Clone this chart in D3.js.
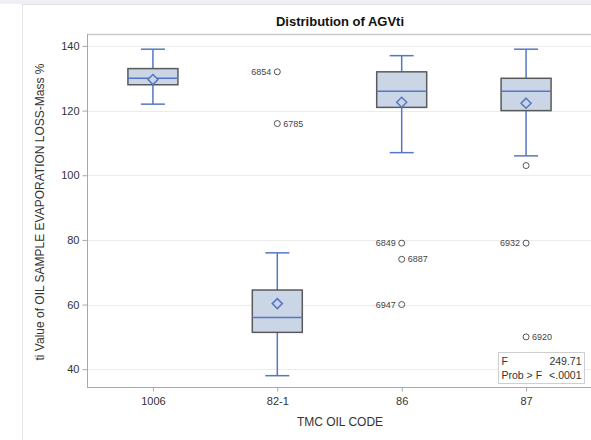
<!DOCTYPE html>
<html>
<head>
<meta charset="utf-8">
<script src="https://cdn.jsdelivr.net/npm/d3@7"></script>
<style>
  html, body { margin: 0; padding: 0; background: #ffffff; }
  svg { display: block; font-family: Arial, "Liberation Sans", sans-serif; }
</style>
</head>
<body>
<svg id="chart" width="591" height="440"></svg>
<script>
// Oil codes on the category axis
const categories = ["1006", "82-1", "86", "87"];
// Box statistics per oil code
const whiskerLow  = [122, 38, 107, 106];
const q1          = [128, 51.4, 121, 120];
const median      = [130, 56, 126, 126];
const q3          = [133, 64.5, 132, 130];
const whiskerHigh = [139, 76, 137, 139];
const means       = [129.6, 60.3, 122.6, 122.3];
// Outlying observations: category, value, sample id, label side
const outlierCat   = ["82-1", "82-1", "86", "86", "86", "87", "87", "87"];
const outlierValue = [132, 116, 79, 74, 60, 103, 79, 50];
const outlierId    = ["6854", "6785", "6849", "6887", "6947", "", "6932", "6920"];
const outlierSide  = ["left", "right", "left", "right", "left", "", "left", "right"];
// Axis ticks and ANOVA inset
const yTicks = [40, 60, 80, 100, 120, 140];
const statNames  = ["F", "Prob > F"];
const statValues = ["249.71", "<.0001"];

const svg = d3.select("#chart");
const W = 591, H = 440;
const plot = { left: 87, top: 34, right: 592, bottom: 387 };

// page background and outer frame
svg.append("rect").attr("x", 0).attr("y", 0).attr("width", W).attr("height", H).attr("fill", "#ffffff");
svg.append("rect").attr("x", 0).attr("y", 0).attr("width", W).attr("height", 4).attr("fill", "#eef0f4");
svg.append("line").attr("x1", 22.5).attr("x2", 22.5).attr("y1", 4).attr("y2", H).attr("stroke", "#e2e4e8");
svg.append("line").attr("x1", 22).attr("x2", W).attr("y1", 4.5).attr("y2", 4.5).attr("stroke", "#e2e4e8");

const x = d3.scalePoint().domain(categories).range([plot.left, plot.right]).padding(0.53);
const y = d3.scaleLinear().domain([34.5, 143.7]).range([plot.bottom, plot.top]);

// grid lines
svg.append("g").selectAll("line").data(yTicks).join("line")
  .attr("x1", plot.left).attr("x2", plot.right)
  .attr("y1", d => Math.round(y(d)) + 0.5).attr("y2", d => Math.round(y(d)) + 0.5)
  .attr("stroke", "#ebebeb").attr("stroke-width", 1);

// plot frame: top edge
svg.append("line").attr("x1", plot.left).attr("x2", W).attr("y1", plot.top + 0.5).attr("y2", plot.top + 0.5)
  .attr("stroke", "#c9cccc").attr("stroke-width", 1.5);

// y axis
const yAxis = svg.append("g").attr("transform", `translate(${plot.left + 0.5},0)`)
  .call(d3.axisLeft(y).tickValues(yTicks).tickSize(5).tickPadding(3));
yAxis.select(".domain").attr("stroke", "#a8a8a8").attr("d", `M0,${plot.top}V${plot.bottom}`);
yAxis.selectAll(".tick line").attr("stroke", "#a8a8a8");
yAxis.selectAll(".tick text").attr("fill", "#333").style("font-size", "11px")
  .style("font-family", "Arial, 'Liberation Sans', sans-serif");

// x axis
const xAxis = svg.append("g").attr("transform", `translate(0,${plot.bottom + 0.5})`)
  .call(d3.axisBottom(x).tickSize(4).tickPadding(6));
xAxis.select(".domain").attr("stroke", "#a8a8a8").attr("d", `M${plot.left},0H${W}`);
xAxis.selectAll(".tick line").attr("stroke", "#a8a8a8");
xAxis.selectAll(".tick text").attr("fill", "#333").style("font-size", "11px")
  .style("font-family", "Arial, 'Liberation Sans', sans-serif");

// boxes
const boxColor = "#cad5e6", boxEdge = "#5a5a5a", blue = "#5577c4";
const boxHalf = 25, capHalf = 12;
const boxes = categories.map((c, i) => ({ c, lo: whiskerLow[i], q1: q1[i], md: median[i], q3: q3[i], hi: whiskerHigh[i], mean: means[i] }));
const g = svg.append("g");
boxes.forEach(b => {
  const cx = x(b.c);
  // whiskers
  g.append("line").attr("x1", cx).attr("x2", cx).attr("y1", y(b.hi)).attr("y2", y(b.q3)).attr("stroke", blue).attr("stroke-width", 1.5);
  g.append("line").attr("x1", cx).attr("x2", cx).attr("y1", y(b.q1)).attr("y2", y(b.lo)).attr("stroke", blue).attr("stroke-width", 1.5);
  g.append("line").attr("x1", cx - capHalf).attr("x2", cx + capHalf).attr("y1", y(b.hi)).attr("y2", y(b.hi)).attr("stroke", blue).attr("stroke-width", 1.5);
  g.append("line").attr("x1", cx - capHalf).attr("x2", cx + capHalf).attr("y1", y(b.lo)).attr("y2", y(b.lo)).attr("stroke", blue).attr("stroke-width", 1.5);
  // box
  g.append("rect").attr("x", cx - boxHalf).attr("y", y(b.q3)).attr("width", boxHalf * 2).attr("height", y(b.q1) - y(b.q3))
    .attr("fill", boxColor).attr("stroke", boxEdge).attr("stroke-width", 1.5);
  // median
  g.append("line").attr("x1", cx - boxHalf).attr("x2", cx + boxHalf).attr("y1", y(b.md)).attr("y2", y(b.md)).attr("stroke", blue).attr("stroke-width", 1.5);
  // mean diamond
  const my = y(b.mean), r = 5;
  g.append("path").attr("d", `M${cx},${my - r}L${cx + r},${my}L${cx},${my + r}L${cx - r},${my}Z`)
    .attr("fill", boxColor).attr("stroke", blue).attr("stroke-width", 1.5);
});

// outliers
const outliers = outlierValue.map((v, i) => ({ c: outlierCat[i], v, id: outlierId[i], side: outlierSide[i] }));
const og = svg.append("g");
outliers.forEach(o => {
  const cx = x(o.c), cy = y(o.v);
  og.append("circle").attr("cx", cx).attr("cy", cy).attr("r", 3).attr("fill", "none").attr("stroke", "#555").attr("stroke-width", 1);
  if (o.id) {
    og.append("text").attr("x", o.side === "left" ? cx - 6 : cx + 6).attr("y", cy).attr("dy", "0.35em")
      .attr("text-anchor", o.side === "left" ? "end" : "start")
      .attr("fill", "#444").style("font-size", "9px").text(o.id);
  }
});

// ANOVA inset
const inset = { x: 498.5, y: 352.5, w: 86, h: 31 };
svg.append("rect").attr("x", inset.x).attr("y", inset.y).attr("width", inset.w).attr("height", inset.h)
  .attr("fill", "#ffffff").attr("stroke", "#cfcfcf");
statNames.forEach((n, i) => {
  svg.append("text").attr("x", inset.x + 3).attr("y", inset.y + 12 + i * 14).attr("fill", "#333").style("font-size", "10.5px").text(n);
  svg.append("text").attr("x", inset.x + inset.w - 3).attr("y", inset.y + 12 + i * 14).attr("text-anchor", "end").attr("fill", "#333").style("font-size", "10.5px").text(statValues[i]);
});

// title and axis labels
svg.append("text").attr("x", 340).attr("y", 26).attr("text-anchor", "middle")
  .style("font-weight", "bold").style("font-size", "13px").attr("fill", "#111").text("Distribution of AGVti");
svg.append("text").attr("x", 340).attr("y", 426).attr("text-anchor", "middle")
  .style("font-size", "12px").attr("fill", "#333").text("TMC OIL CODE");
svg.append("text").attr("transform", "translate(44,212) rotate(-90)").attr("text-anchor", "middle")
  .style("font-size", "12px").attr("fill", "#333").text("ti Value of OIL SAMPLE EVAPORATION LOSS-Mass %");
</script>
</body>
</html>
